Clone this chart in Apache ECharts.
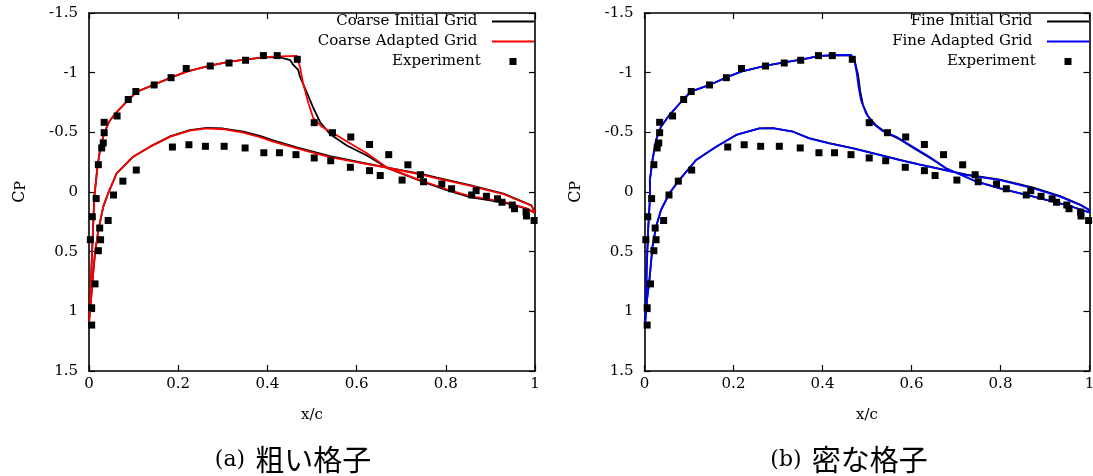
<!DOCTYPE html>
<html>
<head>
<meta charset="utf-8">
<script src="https://cdn.jsdelivr.net/npm/echarts@6/dist/echarts.min.js"></script>
<style>html,body{margin:0;padding:0;background:#fff}#c{width:1093px;height:476px}</style>
</head>
<body>
<div id="c"></div>
<script>
// ---- data (x/c, Cp) ----
const xRange = [0, 1];
const xStep = 0.2;
const yRange = [-1.5, 1.5];
const yStep = 0.5;
const panelCaptions = ['(a)', '(b)'];
const panelCaptionsJa = ['粗い格子', '密な格子'];
const coarseNames = ['Coarse Initial Grid', 'Coarse Adapted Grid', 'Experiment'];
const fineNames = ['Fine Initial Grid', 'Fine Adapted Grid', 'Experiment'];

const experiment = [
  [0.006,1.115],[0.006,0.970],[0.0135,0.770],[0.003,0.400],[0.0074,0.207],[0.016,0.055],
  [0.021,-0.229],[0.0285,-0.369],[0.032,-0.411],[0.034,-0.497],[0.034,-0.584],[0.063,-0.637],
  [0.088,-0.775],[0.105,-0.842],[0.146,-0.897],[0.184,-0.958],[0.218,-1.035],[0.272,-1.056],
  [0.314,-1.081],[0.351,-1.104],[0.391,-1.143],[0.422,-1.143],[0.467,-1.112],[0.505,-0.581],
  [0.546,-0.497],[0.587,-0.461],[0.629,-0.398],[0.672,-0.313],[0.715,-0.228],[0.743,-0.145],
  [0.750,-0.086],[0.791,-0.067],[0.813,-0.027],[0.868,-0.011],[0.858,0.025],[0.891,0.036],
  [0.916,0.057],[0.926,0.086],[0.949,0.109],[0.954,0.140],[0.980,0.168],[0.981,0.201],[0.998,0.239],
  [0.024,0.302],[0.026,0.400],[0.021,0.492],[0.043,0.239],[0.055,0.025],[0.076,-0.091],
  [0.106,-0.184],[0.187,-0.377],[0.224,-0.396],[0.261,-0.383],[0.303,-0.383],[0.350,-0.369],
  [0.392,-0.329],[0.427,-0.329],[0.464,-0.313],[0.505,-0.285],[0.542,-0.262],[0.586,-0.207],
  [0.629,-0.179],[0.653,-0.138],[0.702,-0.100]
];

const coarseAdapted = [
  [1.000,0.175],[0.981,0.137],[0.929,0.081],[0.854,0.034],[0.802,-0.023],[0.742,-0.100],
  [0.670,-0.200],[0.623,-0.324],[0.585,-0.408],[0.548,-0.492],[0.522,-0.547],[0.503,-0.618],
  [0.492,-0.744],[0.480,-0.911],[0.473,-1.050],[0.466,-1.140],[0.428,-1.136],[0.391,-1.129],
  [0.354,-1.112],[0.316,-1.092],[0.271,-1.059],[0.219,-1.008],[0.185,-0.961],[0.144,-0.897],
  [0.108,-0.841],[0.086,-0.763],[0.060,-0.662],[0.045,-0.589],[0.034,-0.492],[0.026,-0.380],
  [0.019,-0.212],[0.012,0.039],[0.008,0.400],[0.0045,0.740],[0.002,0.990],[0.000,1.100],
  [0.0045,0.905],[0.008,0.738],[0.0135,0.511],[0.021,0.319],[0.032,0.123],[0.043,0.011],
  [0.062,-0.157],[0.099,-0.296],[0.137,-0.380],[0.182,-0.464],[0.226,-0.514],[0.264,-0.534],
  [0.301,-0.526],[0.346,-0.497],[0.383,-0.459],[0.413,-0.422],[0.466,-0.365],[0.540,-0.293],
  [0.615,-0.239],[0.675,-0.199],[0.750,-0.142],[0.780,-0.115],[0.854,-0.053],[0.929,0.017],
  [0.992,0.115],[1.000,0.175]
];

const coarseInitial = [
  [1.000,0.175],[0.981,0.140],[0.929,0.088],[0.854,0.042],[0.802,-0.015],[0.742,-0.095],
  [0.670,-0.200],[0.652,-0.241],[0.623,-0.306],[0.578,-0.390],[0.540,-0.486],[0.518,-0.587],
  [0.503,-0.704],[0.488,-0.838],[0.473,-0.966],[0.469,-1.023],[0.458,-1.065],[0.451,-1.106],
  [0.435,-1.121],[0.428,-1.130],[0.391,-1.129],
  [0.354,-1.112],[0.316,-1.092],[0.271,-1.059],[0.219,-1.008],[0.185,-0.961],[0.144,-0.897],
  [0.108,-0.841],[0.086,-0.763],[0.060,-0.662],[0.045,-0.589],[0.034,-0.492],[0.026,-0.380],
  [0.019,-0.212],[0.012,0.039],[0.008,0.400],[0.0045,0.740],[0.002,0.990],[0.000,1.100],
  [0.0045,0.905],[0.008,0.738],[0.0135,0.511],[0.021,0.319],[0.032,0.123],[0.043,0.011],
  [0.062,-0.157],[0.099,-0.296],[0.137,-0.380],[0.182,-0.466],[0.226,-0.518],[0.264,-0.538],
  [0.301,-0.532],[0.346,-0.505],[0.383,-0.470],[0.413,-0.432],[0.466,-0.375],[0.540,-0.300],
  [0.615,-0.243],[0.675,-0.200],[0.750,-0.148],[0.780,-0.121],[0.854,-0.058],[0.929,0.013],
  [0.992,0.112],[1.000,0.175]
];

const fineAdapted = [
  [1.000,0.170],[0.994,0.165],[0.949,0.109],[0.874,0.039],[0.799,-0.031],[0.7465,-0.086],
  [0.6775,-0.199],[0.640,-0.296],[0.603,-0.380],[0.565,-0.464],[0.535,-0.511],[0.513,-0.576],
  [0.4977,-0.660],[0.4865,-0.771],[0.481,-0.883],[0.477,-0.995],[0.4715,-1.106],[0.464,-1.148],
  [0.430,-1.146],[0.393,-1.140],[0.355,-1.112],[0.314,-1.087],[0.273,-1.059],[0.217,-1.008],
  [0.183,-0.958],[0.146,-0.897],[0.1045,-0.841],[0.086,-0.771],[0.056,-0.645],[0.037,-0.547],
  [0.026,-0.436],[0.018,-0.268],[0.012,-0.100],[0.0124,0.039],[0.0085,0.291],[0.005,0.626],
  [0.0034,0.961],[0.001,1.120],
  [0.0056,0.905],[0.011,0.738],[0.018,0.458],[0.026,0.291],[0.037,0.151],[0.056,0.011],
  [0.078,-0.100],[0.116,-0.268],[0.161,-0.380],[0.206,-0.478],[0.258,-0.534],[0.288,-0.536],
  [0.334,-0.505],[0.370,-0.450],[0.415,-0.408],[0.468,-0.366],[0.543,-0.296],[0.574,-0.268],
  [0.6175,-0.230],[0.649,-0.205],[0.724,-0.142],[0.799,-0.100],[0.874,-0.031],[0.934,0.039],
  [0.979,0.109],[0.997,0.145],[1.000,0.170]
];

const fineInitial = [
  [1.000,0.170],[0.994,0.165],[0.949,0.109],[0.874,0.039],[0.799,-0.031],[0.7465,-0.086],
  [0.6775,-0.199],[0.640,-0.289],[0.608,-0.360],[0.574,-0.440],[0.544,-0.495],[0.520,-0.560],
  [0.502,-0.636],[0.491,-0.729],[0.485,-0.838],[0.480,-0.981],[0.473,-1.090],[0.464,-1.148],
  [0.430,-1.146],[0.393,-1.140],[0.355,-1.112],[0.314,-1.087],[0.273,-1.059],[0.217,-1.008],
  [0.183,-0.958],[0.146,-0.897],[0.1045,-0.841],[0.086,-0.771],[0.056,-0.645],[0.037,-0.547],
  [0.026,-0.436],[0.018,-0.268],[0.012,-0.100],[0.0124,0.039],[0.0085,0.291],[0.005,0.626],
  [0.0034,0.961],[0.001,1.120],
  [0.0056,0.905],[0.011,0.738],[0.018,0.458],[0.026,0.291],[0.037,0.151],[0.056,0.011],
  [0.078,-0.100],[0.116,-0.268],[0.161,-0.380],[0.206,-0.478],[0.258,-0.534],[0.288,-0.536],
  [0.334,-0.505],[0.370,-0.452],[0.415,-0.410],[0.468,-0.368],[0.543,-0.298],[0.574,-0.270],
  [0.6175,-0.232],[0.649,-0.207],[0.724,-0.145],[0.799,-0.104],[0.874,-0.036],[0.934,0.034],
  [0.979,0.106],[0.997,0.145],[1.000,0.170]
];

// ---- styling ----
const SERIF = "'DejaVu Serif', 'Liberation Serif', serif";
const grids = [
  { left: 89, top: 13, width: 446, height: 358 },
  { left: 644.5, top: 13, width: 445, height: 358 }
];

const xAxes = [], yAxes = [];
grids.forEach((g, gi) => {
  const lineCommon = { show: true, onZero: false, lineStyle: { color: '#000', width: 1.6 } };
  const tickCommon = { show: true, inside: true, length: 6, lineStyle: { color: '#000', width: 1.2 } };
  xAxes.push({
    gridIndex: gi, type: 'value', min: xRange[0], max: xRange[1], interval: xStep, position: 'bottom',
    axisLine: lineCommon, axisTick: tickCommon, splitLine: { show: false },
    axisLabel: { margin: 6, color: '#000', fontFamily: SERIF, fontSize: 15 },
    name: 'x/c', nameLocation: 'middle', nameGap: 37,
    nameTextStyle: { color: '#000', fontFamily: SERIF, fontSize: 15 }
  });
  xAxes.push({
    gridIndex: gi, type: 'value', min: xRange[0], max: xRange[1], interval: xStep, position: 'top',
    axisLine: lineCommon, axisTick: tickCommon, splitLine: { show: false }, axisLabel: { show: false }
  });
  yAxes.push({
    gridIndex: gi, type: 'value', min: yRange[0], max: yRange[1], interval: yStep, inverse: true, position: 'left',
    axisLine: lineCommon, axisTick: tickCommon, splitLine: { show: false },
    axisLabel: { margin: 11, color: '#000', fontFamily: SERIF, fontSize: 15 },
    name: '{c|C}{p|P}', nameLocation: 'middle', nameGap: 61, nameRotate: 90,
    nameTextStyle: {
      color: '#000', fontFamily: SERIF,
      rich: {
        c: { fontFamily: SERIF, fontSize: 16, lineHeight: 16, verticalAlign: 'top', color: '#000' },
        p: { fontFamily: SERIF, fontSize: 14, lineHeight: 14, verticalAlign: 'bottom', padding: [5, 0, 0, 0], color: '#000' }
      }
    }
  });
  yAxes.push({
    gridIndex: gi, type: 'value', min: yRange[0], max: yRange[1], interval: yStep, inverse: true, position: 'right',
    axisLine: lineCommon, axisTick: tickCommon, splitLine: { show: false }, axisLabel: { show: false }
  });
});

function lineSeries(name, data, color, ai, z) {
  return { name, type: 'line', data, xAxisIndex: ai, yAxisIndex: ai, symbol: 'none', showSymbol: false, z,
    lineStyle: { color, width: 1.8 }, itemStyle: { color }, animation: false };
}
function expSeries(ai) {
  return { name: 'Experiment', type: 'scatter', data: experiment, xAxisIndex: ai, yAxisIndex: ai,
    symbol: 'rect', symbolSize: 7, itemStyle: { color: '#000', opacity: 1 }, z: 5, animation: false };
}

const series = [
  lineSeries(coarseNames[0], coarseInitial, '#000000', 0, 2),
  lineSeries(coarseNames[1], coarseAdapted, '#ff0000', 0, 3),
  expSeries(0),
  lineSeries(fineNames[0], fineInitial, '#000000', 2, 2),
  lineSeries(fineNames[1], fineAdapted, '#0000ff', 2, 3),
  expSeries(2)
];

const legendText = { color: '#000', fontFamily: SERIF, fontSize: 15 };
function legendsFor(names, rightEdge) {
  const tops = [14, 34, 54];
  return names.map((n, i) => {
    const isExp = i === 2;
    return {
      data: [{ name: n, icon: 'rect' }], orient: 'vertical', align: 'right', selectedMode: false,
      right: isExp ? rightEdge + 17.5 : rightEdge, top: tops[i],
      itemWidth: isExp ? 7 : 42, itemHeight: isExp ? 7 : 2, padding: 0,
      itemStyle: { opacity: 1, borderWidth: 0 },
      formatter: isExp ? '{name}     ' : '{name}  ',
      textStyle: legendText
    };
  });
}
const legends = legendsFor(coarseNames, 1093 - 534).concat(legendsFor(fineNames, 1093 - 1089));

const captionCenters = [293, 849];
const graphics = captionCenters.map((cx, i) => ({
  type: 'text', x: cx, y: 460,
  style: {
    text: '{a|' + panelCaptions[i] + '}   {j|' + panelCaptionsJa[i] + '}',
    align: 'center', verticalAlign: 'middle', textAlign: 'center', textVerticalAlign: 'middle',
    fill: '#000',
    rich: {
      a: { fontFamily: SERIF, fontSize: 22, fill: '#000' },
      j: { fontFamily: "'Noto Sans CJK JP'", fontSize: 29, fill: '#000' }
    }
  }
}));

const chart = echarts.init(document.getElementById('c'), null, { renderer: 'canvas' });
chart.setOption({
  backgroundColor: '#fff',
  animation: false,
  grid: grids.map(g => Object.assign({ outerBoundsMode: 'none', containLabel: false }, g)),
  xAxis: xAxes,
  yAxis: yAxes,
  legend: legends,
  series,
  graphic: graphics
});
</script>
</body>
</html>
